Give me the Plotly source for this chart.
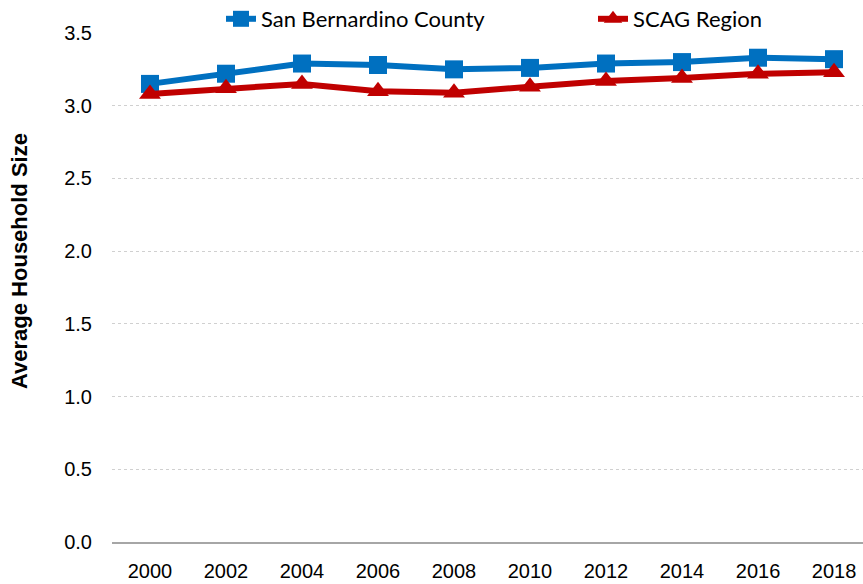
import plotly.graph_objects as go

years = [2000, 2002, 2004, 2006, 2008, 2010, 2012, 2014, 2016, 2018]
san_bernardino = [3.15, 3.22, 3.29, 3.28, 3.25, 3.26, 3.29, 3.30, 3.33, 3.32]
scag_region = [3.08, 3.12, 3.15, 3.10, 3.09, 3.13, 3.17, 3.19, 3.22, 3.23]
y_ticks = [0.0, 0.5, 1.0, 1.5, 2.0, 2.5, 3.0, 3.5]
y_tick_text = ["0.0", "0.5", "1.0", "1.5", "2.0", "2.5", "3.0", "3.5"]
y_title = "Average Household Size"

tick_font = dict(family="Liberation Sans, Arial, sans-serif", size=20, color="#000000")
legend_font = dict(family="Lato, Noto Sans, sans-serif", size=22, color="#000000")

fig = go.Figure()
fig.add_trace(go.Scatter(
    x=years, y=san_bernardino, name="San Bernardino County", mode="lines+markers",
    line=dict(color="#0070C0", width=6),
    marker=dict(symbol="square", size=18, color="#0070C0"),
    legend="legend",
))
fig.add_trace(go.Scatter(
    x=years, y=scag_region, name="SCAG Region", mode="lines+markers",
    line=dict(color="#C00000", width=6),
    marker=dict(symbol="triangle-up", size=19, color="#C00000"),
    legend="legend2",
))

legend_common = dict(orientation="h", xref="container", yref="container",
                     xanchor="left", y=1 - 19 / 584, yanchor="middle",
                     font=legend_font, bgcolor="rgba(0,0,0,0)", itemwidth=30)

fig.update_layout(
    width=863, height=584,
    margin=dict(l=112, r=0, t=33, b=42, autoexpand=False),
    paper_bgcolor="white", plot_bgcolor="white",
    showlegend=True,
    legend=dict(x=221 / 863, **legend_common),
    legend2=dict(x=593 / 863, **legend_common),
    xaxis=dict(range=[1999, 2018.763], tickvals=years, ticktext=[str(y) for y in years],
               showgrid=False, zeroline=False, showline=True, linecolor="#A6A6A6", linewidth=2,
               ticks="outside", ticklen=10, tickcolor="rgba(0,0,0,0)", tickfont=tick_font,
               automargin=False),
    yaxis=dict(range=[0, 3.5], tickvals=y_ticks, ticktext=y_tick_text,
               showgrid=True, gridcolor="#D0D0D0", griddash="dot", gridwidth=1,
               zeroline=False, showline=False, automargin=False,
               ticks="outside", ticklen=15, tickcolor="rgba(0,0,0,0)", tickfont=tick_font),
    annotations=[dict(text="<b>" + y_title + "</b>", xref="paper", yref="paper",
                      x=(19 - 112) / 751, y=(542 - 261) / 509, xanchor="center", yanchor="middle",
                      textangle=-90, showarrow=False,
                      font=dict(family="Liberation Sans, Arial, sans-serif", size=22, color="#000000"))],
)

fig.write_html("out.html", config={"displayModeBar": False},
               post_script="document.body.style.margin='0px';")
